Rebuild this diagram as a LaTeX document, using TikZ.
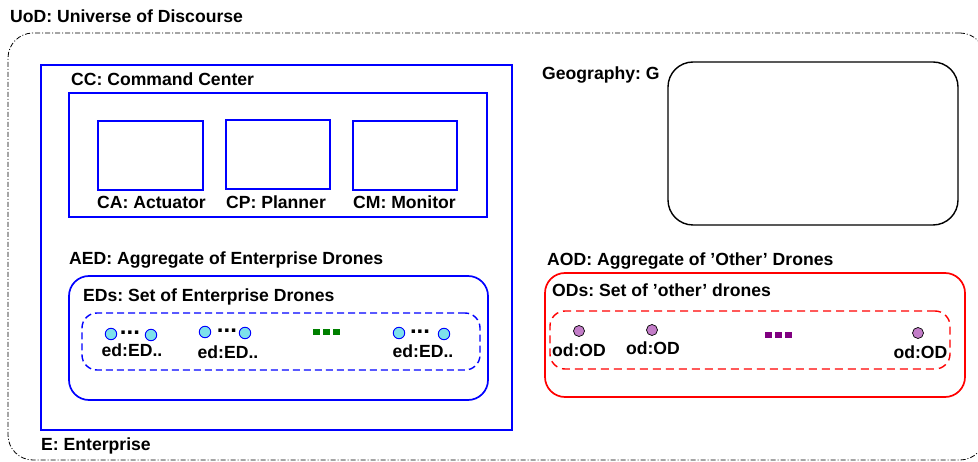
\documentclass[tikz,border=0pt]{standalone}
\usepackage{fontspec}
\setmainfont{Liberation Sans}
\usetikzlibrary{positioning}
\frenchspacing

\definecolor{dronecyan}{RGB}{125,225,235}
\definecolor{dronepurple}{RGB}{195,125,200}
\definecolor{dotgreen}{RGB}{0,128,0}
\definecolor{dotpurple}{RGB}{128,0,128}

\begin{document}
\begin{tikzpicture}[x=1pt, y=-1pt,
    lbl/.style={inner sep=0pt, anchor=base west, font=\fontsize{17.6}{20}\selectfont\bfseries},
    sublbl/.style={lbl, anchor=base},
    dots/.style={inner sep=0pt, font=\fontsize{24}{24}\selectfont\bfseries},
    bluebox/.style={draw=blue, line width=1.7pt, inner sep=0pt},
    redbox/.style={draw=red, line width=1.7pt, inner sep=0pt},
    edrone/.style={circle, draw=blue, fill=dronecyan, line width=0.9pt, minimum size=11.5pt, inner sep=0pt},
    odrone/.style={circle, draw=black, fill=dronepurple, line width=0.7pt, minimum size=11pt, inner sep=0pt},
    sqdot/.style={rectangle, minimum size=6.5pt, inner sep=0pt}]
  \useasboundingbox (0,0) rectangle (978,462);

  % universe of discourse
  \node[draw, line width=0.8pt, dash pattern=on 5pt off 2pt on 1pt off 2pt, rounded corners=25pt,
        minimum width=977pt, minimum height=427pt] (uod) at (496.5,246.5) {};
  \node[lbl] (uodlbl) at (10,23) {UoD: Universe of Discourse};

  % enterprise
  \node[bluebox, minimum width=471pt, minimum height=365pt] (e) at (276.5,247.5) {};
  \node[lbl] (elbl) at (41,450) {E: Enterprise};

  % command center
  \node[lbl] (cclbl) at (71,86) {CC: Command Center};
  \node[bluebox, minimum width=418pt, minimum height=124pt] (cc) at (278,155) {};
  \node[bluebox, minimum width=105pt, minimum height=69pt] (ca) at (150.5,155.5) {};
  \node[bluebox, minimum width=104pt, minimum height=69pt] (cp) at (278,154.5) {};
  \node[bluebox, minimum width=104pt, minimum height=69pt] (cm) at (405,155.5) {};
  \node[sublbl] (calbl) at (151.5,209) {CA: Actuator};
  \node[sublbl] (cplbl) at (276,209) {CP: Planner};
  \node[sublbl] (cmlbl) at (404.5,209) {CM: Monitor};

  % enterprise drones
  \node[lbl] (aedlbl) at (69,265) {AED: Aggregate of Enterprise Drones};
  \node[bluebox, rounded corners=20pt, minimum width=419pt, minimum height=124pt] (aed) at (278.5,338) {};
  \node[lbl] (edslbl) at (83,302) {EDs: Set of Enterprise Drones};
  \node[bluebox, line width=1.4pt, dash pattern=on 7pt off 4pt, rounded corners=15pt,
        minimum width=398pt, minimum height=57pt] (eds) at (281,341.5) {};

  \node[edrone] (ed1a) at (111,334) {};
  \node[edrone] (ed1b) at (151,335) {};
  \node[dots] (ed1dots) at (130,333) {...};
  \node[sublbl] (ed1lbl) at (132,357) {ed:ED..};

  \node[edrone] (ed2a) at (205,332) {};
  \node[edrone] (ed2b) at (245,333) {};
  \node[dots] (ed2dots) at (227,331) {...};
  \node[sublbl] (ed2lbl) at (228,359) {ed:ED..};

  \node[edrone] (ed3a) at (399,333) {};
  \node[edrone] (ed3b) at (444,334) {};
  \node[dots] (ed3dots) at (420,332) {...};
  \node[sublbl] (ed3lbl) at (423,358) {ed:ED..};

  \foreach \i in {0,1,2}
    \node[sqdot, fill=dotgreen] (gdot\i) at (316.5+10*\i,332) {};

  % geography
  \node[lbl] (geolbl) at (542,80) {Geography: G};
  \node[draw, line width=1.4pt, rounded corners=25pt, minimum width=290pt, minimum height=163pt] (geo) at (813,143.5) {};

  % other drones
  \node[lbl] (aodlbl) at (547,266) {AOD: Aggregate of 'Other' Drones};
  \node[redbox, rounded corners=20pt, minimum width=420pt, minimum height=124pt] (aod) at (755,335) {};
  \node[lbl] (odslbl) at (552,297) {ODs: Set of 'other' drones};
  \node[redbox, line width=1.4pt, dash pattern=on 8pt off 5pt, rounded corners=15pt,
        minimum width=400pt, minimum height=58pt] (ods) at (750,340) {};

  \node[odrone] (od1) at (579,331) {};
  \node[sublbl] (od1lbl) at (579,357) {od:OD};
  \node[odrone] (od2) at (652,330) {};
  \node[sublbl] (od2lbl) at (653,355) {od:OD};
  \node[odrone] (od3) at (918,333) {};
  \node[sublbl] (od3lbl) at (920.5,359) {od:OD};

  \foreach \i in {0,1,2}
    \node[sqdot, fill=dotpurple] (pdot\i) at (768.5+10*\i,335) {};
\end{tikzpicture}
\end{document}
